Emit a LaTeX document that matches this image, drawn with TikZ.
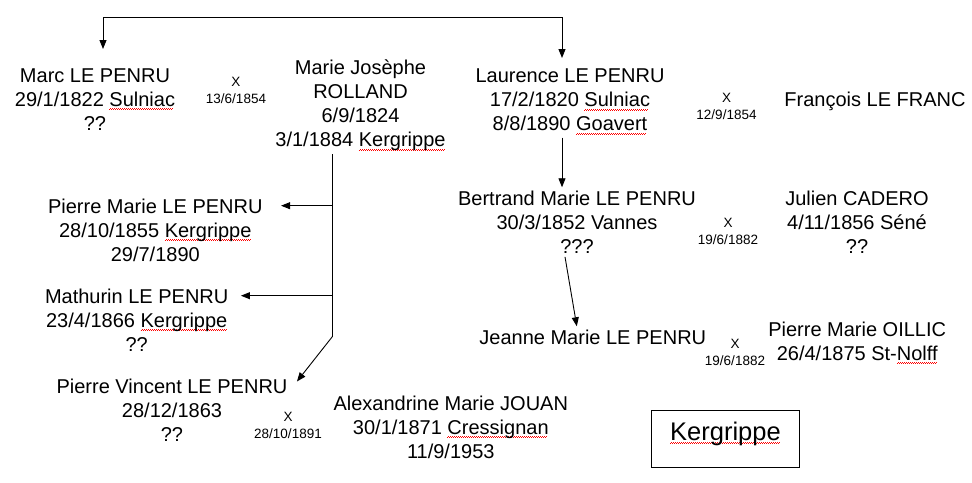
\documentclass[tikz,border=0pt]{standalone}
\usepackage{fontspec}
\setmainfont{Liberation Sans}
\usetikzlibrary{arrows.meta}
\newcommand{\spellmark}[1]{\setbox0=\hbox{#1}\rlap{\lower3.5pt\hbox to \wd0{\color{red}\leaders\hbox{\rule{1pt}{0.7pt}\raise1pt\hbox{\rule{1pt}{0.7pt}}}\hfill}}\box0}

\begin{document}
\begin{tikzpicture}[x=1pt, y=-1pt, >={Triangle[length=9pt,width=7pt]},
    person/.style={align=center, anchor=base, font=\fontsize{20}{24}\selectfont},
    wedding/.style={align=center, anchor=base, font=\fontsize{13.5}{17}\selectfont},
    link/.style={->, line width=0.9pt}]
    \useasboundingbox (0,0) rectangle (972,482);

    % first generation (nodes placed at the baseline of their last line)
    \node[person] (Marc) at (95,130.5) {Marc LE PENRU\\29/1/1822 \spellmark{Sulniac}\\??};
    \node[wedding] (WedMarc) at (236,103) {X\\13/6/1854};
    \node[person] (Marie) at (360.5,146.7) {Marie Josèphe\\ROLLAND\\6/9/1824\\3/1/1884 \spellmark{Kergrippe}};
    \node[person] (Laurence) at (570,130.7) {Laurence LE PENRU\\17/2/1820 \spellmark{Sulniac}\\8/8/1890 \spellmark{Goavert}};
    \node[wedding] (WedLaurence) at (726.5,119.3) {X\\12/9/1854};
    \node[person] (Francois) at (875,106.7) {François LE FRANC};

    % children of Marc
    \node[person] (PierreMarie) at (155.3,261) {Pierre Marie LE PENRU\\28/10/1855 \spellmark{Kergrippe}\\29/7/1890};
    \node[person] (Mathurin) at (136.7,351.3) {Mathurin LE PENRU\\23/4/1866 \spellmark{Kergrippe}\\??};
    \node[person] (PierreVincent) at (172,441.5) {Pierre Vincent LE PENRU\\28/12/1863\\??};
    \node[wedding] (WedPierre) at (288,438.5) {X\\28/10/1891};
    \node[person] (Alexandrine) at (450.8,458.3) {Alexandrine Marie JOUAN\\30/1/1871 \spellmark{Cressignan}\\11/9/1953};

    % descendants of Laurence
    \node[person] (Bertrand) at (577,253.3) {Bertrand Marie LE PENRU\\30/3/1852 Vannes\\???};
    \node[wedding] (WedBertrand) at (728,244.6) {X\\19/6/1882};
    \node[person] (Julien) at (857,253.3) {Julien CADERO\\4/11/1856 Séné\\??};
    \node[person] (Jeanne) at (592.8,344.3) {Jeanne Marie LE PENRU};
    \node[wedding] (WedJeanne) at (735,365) {X\\19/6/1882};
    \node[person] (Oillic) at (857.2,360) {Pierre Marie OILLIC\\26/4/1875 St-\spellmark{Nolff}};

    \node[draw, line width=0.9pt, anchor=base, font=\fontsize{25.5}{30}\selectfont,
          minimum width=147.6pt, inner ysep=11pt, text height=18.3pt, text depth=16.3pt]
          (Place) at (725.5,440) {\spellmark{Kergrippe}};

    % parents split
    \coordinate (ForkL) at (103,17);
    \coordinate (ForkR) at (562,17);
    \coordinate (MarcIn) at (103,49);
    \coordinate (LaurenceIn) at (562,58);
    \draw[link,<->] (MarcIn) -- (ForkL) -- (ForkR) -- (LaurenceIn);

    % Marc's children
    \coordinate (Trunk) at (332.3,336.7);
    \coordinate (PierreMarieIn) at ([shift={(15pt,55.3pt)}]PierreMarie.base east);
    \coordinate (MathurinIn) at ([shift={(9pt,55.6pt)}]Mathurin.base east);
    \draw[line width=0.9pt] (Marie.south -| Trunk) -- (Trunk);
    \draw[link] (Trunk) -- ([shift={(6pt,-6pt)}]PierreVincent.north east);
    \draw[link] (PierreMarieIn -| Trunk) -- (PierreMarieIn);
    \draw[link] (MathurinIn -| Trunk) -- (MathurinIn);

    % Laurence's line
    \draw[link] (Laurence.south -| ForkR) -- (Bertrand.north -| ForkR);
    \draw[link] ([xshift=-12pt]Bertrand.south) -- ([xshift=-16pt]Jeanne.north);
\end{tikzpicture}
\end{document}
